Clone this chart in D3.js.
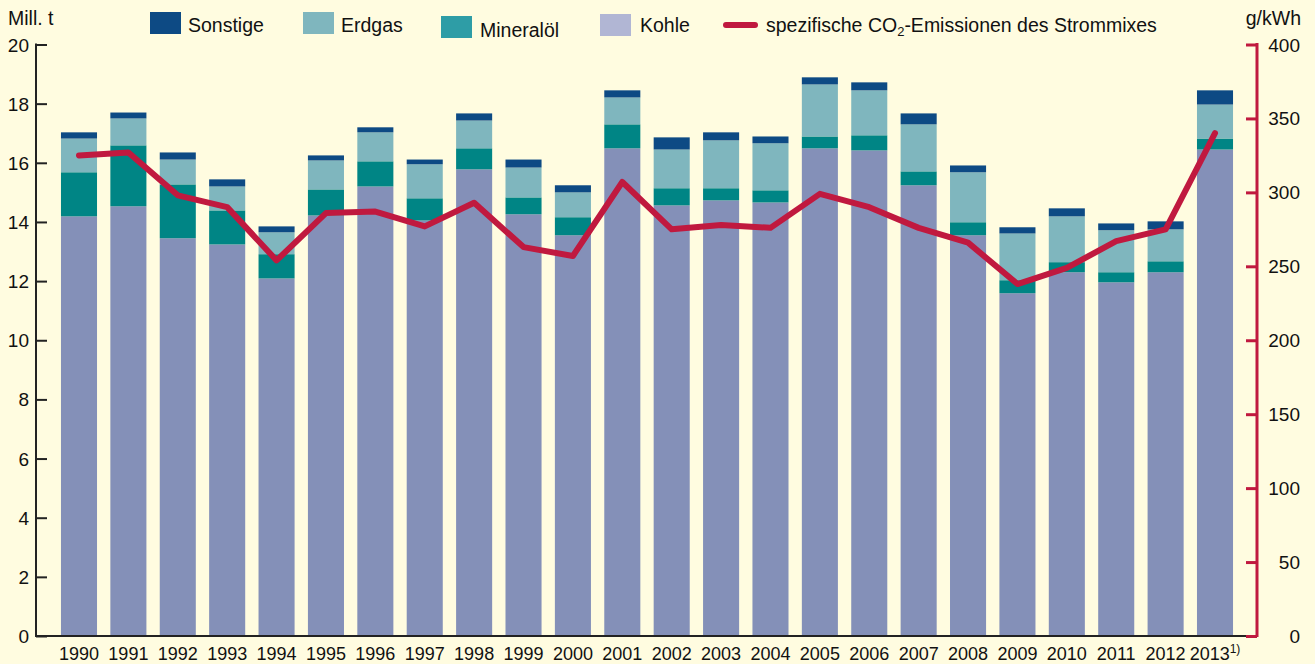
<!DOCTYPE html>
<html><head><meta charset="utf-8">
<script src="https://cdn.jsdelivr.net/npm/d3@7/dist/d3.min.js"></script>
<style>
html,body{margin:0;padding:0;background:#FFFCE0;}
svg{display:block;font-family:"Liberation Sans",Arial,sans-serif;}
</style></head><body>
<svg id="c" width="1315" height="664"></svg>
<script>
const years = ["1990","1991","1992","1993","1994","1995","1996","1997","1998","1999","2000","2001","2002","2003","2004","2005","2006","2007","2008","2009","2010","2011","2012","2013"];
const kohle = [14.19,14.53,13.45,13.24,12.09,14.22,15.20,14.05,15.78,14.26,13.55,16.49,14.56,14.73,14.66,16.49,16.42,15.24,13.55,11.59,12.30,11.96,12.30,16.45];
const mineraloel = [1.49,2.06,1.82,1.15,0.82,0.88,0.85,0.75,0.71,0.57,0.61,0.81,0.58,0.41,0.41,0.40,0.51,0.47,0.44,0.44,0.34,0.34,0.37,0.37];
const erdgas = [1.14,0.91,0.84,0.81,0.74,0.98,0.98,1.15,0.94,1.01,0.84,0.91,1.31,1.62,1.59,1.76,1.52,1.59,1.69,1.58,1.55,1.42,1.08,1.15];
const sonstige = [0.21,0.20,0.24,0.24,0.20,0.17,0.17,0.16,0.24,0.27,0.24,0.24,0.41,0.27,0.23,0.24,0.27,0.37,0.23,0.21,0.27,0.23,0.27,0.48];
const co2 = [325,327,298,290,254,286,287,277,293,263,257,307,275,278,276,299,290,276,266,238,249,267,275,340];
const leftTicks = [0,2,4,6,8,10,12,14,16,18,20];
const rightTicks = [0,50,100,150,200,250,300,350,400];

const svg = d3.select("#c");
const FS = 18, TFS = 19, LFS = 19.5;
const x = d3.scaleBand().domain(years).range([54.3, 1239.7]).paddingInner(0.27).paddingOuter(0.135);
const y = d3.scaleLinear().domain([0,20]).range([636, 44.5]);
const y2 = d3.scaleLinear().domain([0,400]).range([636, 44.5]);

const keys = ["kohle","mineraloel","erdgas","sonstige"];
const barColors = {kohle:"#8490B8", mineraloel:"#008585", erdgas:"#7FB6BE", sonstige:"#0D4A84"};
const legColors = {kohle:"#B1B6D4", mineraloel:"#2E9DA6", erdgas:"#7FB6BE", sonstige:"#0D4A84"};
const table = years.map((yr,i)=>({year:yr, kohle:kohle[i], mineraloel:mineraloel[i], erdgas:erdgas[i], sonstige:sonstige[i]}));
const stacked = d3.stack().keys(keys)(table);

svg.append("g").selectAll("g").data(stacked).join("g")
  .attr("fill", d=>barColors[d.key])
  .selectAll("rect").data(d=>d).join("rect")
  .attr("x", d=>x(d.data.year))
  .attr("width", x.bandwidth())
  .attr("y", d=>y(d[1]))
  .attr("height", d=>y(d[0])-y(d[1]));

// CO2 line
const line = d3.line().x((d,i)=>x(years[i])+x.bandwidth()/2).y(d=>y2(d));
svg.append("path").datum(co2).attr("d", line)
  .attr("fill","none").attr("stroke","#C0193F").attr("stroke-width",6)
  .attr("stroke-linejoin","round").attr("stroke-linecap","round");

// Left axis
const la = svg.append("g").attr("transform","translate(36,0)")
  .call(d3.axisRight(y).tickValues(leftTicks).tickSize(11).tickFormat(""));
la.select(".domain").remove();
la.selectAll(".tick line").attr("stroke","#222").attr("stroke-width",2);
svg.append("line").attr("x1",36).attr("x2",36).attr("y1",y(20)-1).attr("y2",y(0)+1).attr("stroke","#222").attr("stroke-width",2);
svg.append("g").selectAll("text").data(leftTicks).join("text")
  .attr("x",29).attr("y",d=>y(d)+7).attr("text-anchor","end").attr("font-size",TFS).attr("fill","#111").text(d=>d);

// bottom axis
svg.append("line").attr("x1",35).attr("x2",1257).attr("y1",y(0)).attr("y2",y(0)).attr("stroke","#222").attr("stroke-width",2);
const xa = svg.append("g").attr("transform","translate(0,636)")
  .call(d3.axisBottom(x).tickSize(0).tickFormat(""));
xa.select(".domain").remove();
const yl = svg.append("g").selectAll("text").data(years).join("text")
  .attr("x",d=>x(d)+x.bandwidth()/2).attr("y",660).attr("text-anchor","middle")
  .attr("font-size",FS).attr("fill","#111");
yl.append("tspan").text(d=>d);
yl.filter(d=>d==="2013").append("tspan").attr("font-size",12).attr("dy",-7).text("1)");

// right axis
const ra = svg.append("g").attr("transform","translate(1257,0)")
  .call(d3.axisLeft(y2).tickValues(rightTicks).tickSize(11).tickFormat(""));
ra.select(".domain").remove();
ra.selectAll(".tick line").attr("stroke","#C0193F").attr("stroke-width",3);
svg.append("line").attr("x1",1257).attr("x2",1257).attr("y1",y2(400)-1.5).attr("y2",y2(0)+1).attr("stroke","#C0193F").attr("stroke-width",3);
svg.append("g").selectAll("text").data(rightTicks).join("text")
  .attr("x",1300).attr("y",d=>y2(d)+7).attr("text-anchor","end").attr("font-size",TFS).attr("fill","#111").text(d=>d);

// axis titles
svg.append("text").attr("x",8).attr("y",25).attr("font-size",LFS).attr("fill","#111").text("Mill. t");
svg.append("text").attr("x",1301).attr("y",25).attr("text-anchor","end").attr("font-size",LFS).attr("fill","#111").text("g/kWh");

// legend
const legendItems = [
  {key:"sonstige", label:"Sonstige", x:150, y:12, tx:188, ty:32},
  {key:"erdgas", label:"Erdgas", x:303, y:12, tx:341, ty:32},
  {key:"mineraloel", label:"Mineralöl", x:441, y:16, tx:480, ty:37},
  {key:"kohle", label:"Kohle", x:600, y:14, tx:640, ty:32}
];
const lg = svg.append("g");
legendItems.forEach(it=>{
  lg.append("rect").attr("x",it.x).attr("y",it.y).attr("width",31).attr("height",22).attr("fill",legColors[it.key]);
  lg.append("text").attr("x",it.tx).attr("y",it.ty).attr("font-size",LFS).attr("fill","#111").text(it.label);
});
lg.append("line").attr("x1",726).attr("x2",755).attr("y1",25).attr("y2",25).attr("stroke","#C0193F").attr("stroke-width",6).attr("stroke-linecap","round");
const lt = lg.append("text").attr("x",766).attr("y",32).attr("font-size",LFS).attr("fill","#111");
lt.append("tspan").text("spezifische CO");
lt.append("tspan").attr("font-size",13).attr("dy",4).text("2");
lt.append("tspan").attr("dy",-4).text("-Emissionen des Strommixes");
</script>
</body></html>
